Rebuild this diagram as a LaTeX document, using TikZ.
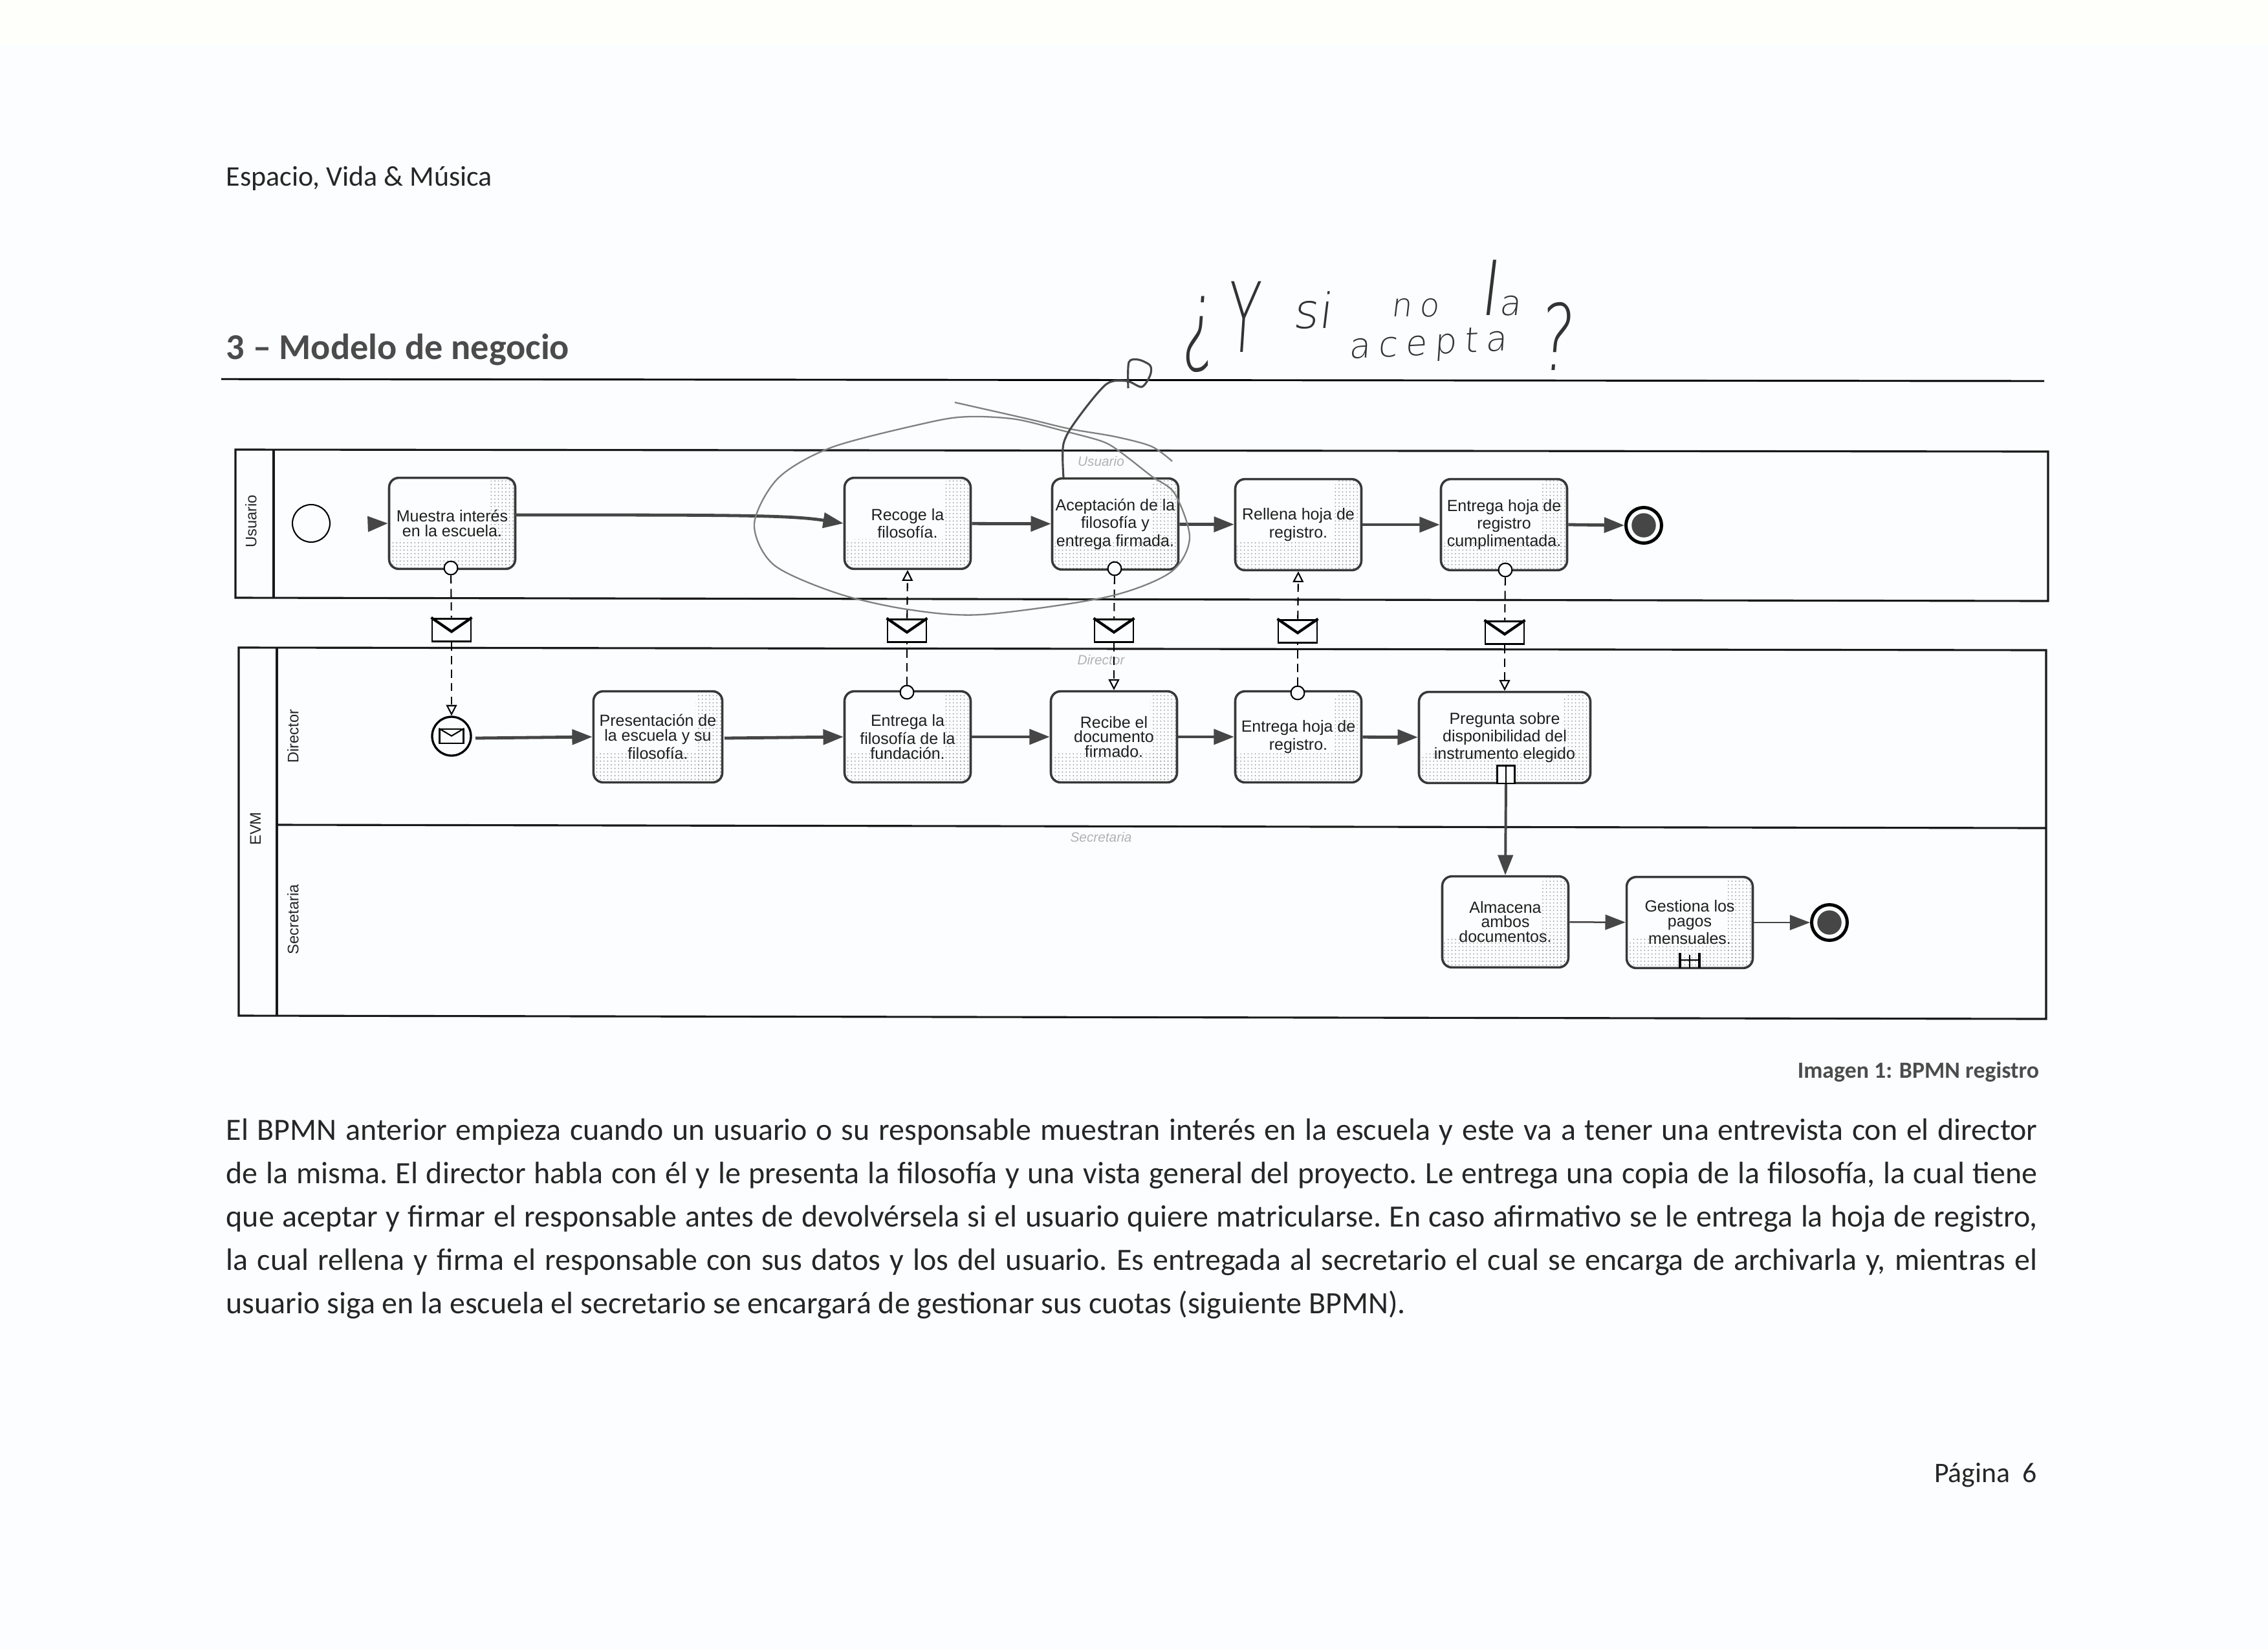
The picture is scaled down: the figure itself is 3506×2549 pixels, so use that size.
\documentclass[tikz,border=0pt]{standalone}
\usepackage{xcolor}
\usepackage{tikz}
\usepackage{graphicx}
\usepackage{fontspec}
\setmainfont{Carlito}
\setsansfont{Liberation Sans}
\newfontfamily\inkfont[FakeSlant=0.12,LetterSpace=22]{DejaVu Sans ExtraLight}
\newfontfamily\inkglyph[FakeSlant=0.12]{DejaVu Sans ExtraLight}
\usetikzlibrary{arrows.meta}
\usetikzlibrary{patterns}
\definecolor{paper}{RGB}{251,253,254}
\definecolor{paperstrip}{RGB}{254,254,250}
\definecolor{inkgray}{RGB}{70,70,70}
\definecolor{titlegray}{RGB}{75,75,75}
\pgfdeclarepatternformonly{taskdots}{\pgfqpoint{-0.5pt}{-0.5pt}}{\pgfqpoint{0.5pt}{0.5pt}}{\pgfqpoint{1.35pt}{1.35pt}}{\pgfpathcircle{\pgfqpoint{0pt}{0pt}}{0.22pt}\pgfusepath{fill}}
\tikzset{task/.style={draw=black!78,line width=0.85pt,rounded corners=3.6pt,fill=paper,align=center,
           inner sep=0pt,minimum width=46.8pt,minimum height=33.8pt,text=black!88,
           font=\sffamily\fontsize{6}{5.4}\selectfont,
           path picture={\fill[pattern=taskdots,pattern color=black!45]
             (path picture bounding box.south west) rectangle ([yshift=11pt]path picture bounding box.south east);
             \fill[pattern=taskdots,pattern color=black!45]
             ([xshift=-10pt]path picture bounding box.south east) rectangle (path picture bounding box.north east);}},
         seqflow/.style={draw=inkgray,line width=1.15pt,-{Triangle[length=7.5pt,width=5.6pt]}},
         thinflow/.style={seqflow,line width=0.6pt},
         msgflow/.style={draw=black,line width=0.5pt,densely dashed},
         msgtip/.style={-{Triangle[open,fill=paper,length=4pt,width=4pt]}},
         msgdot/.style={circle,draw=black,line width=0.5pt,fill=paper,inner sep=0pt,minimum size=5pt},
         envelope/.style={rectangle,draw=black,line width=0.7pt,fill=paper,inner sep=0pt,minimum width=14.4pt,minimum height=8.6pt},
         lanelabel/.style={rotate=90,text=black!85,font=\sffamily\fontsize{5.7}{5.7}\selectfont},
         poolline/.style={line width=0.75pt,draw=black!90},
         ghost/.style={text=black!30,font=\sffamily\itshape\fontsize{5}{5}\selectfont},
         startevt/.style={circle,draw=black,line width=0.5pt,fill=paper,inner sep=0pt,minimum size=13.9pt},
         endevt/.style={circle,draw=black,line width=1.2pt,fill=paper,inner sep=0pt,minimum size=13.2pt},
         handline/.style={draw=black!50,line width=0.55pt},
         inkline/.style={draw=black!72,line width=0.75pt},
         inktext/.style={text=black!80,inner sep=0pt,font=\inkfont\fontsize{13}{13}\selectfont}}
\newcommand{\envflap}[1]{\draw[line width=1pt] (#1.north west)--([yshift=-5.2pt]#1.north)--(#1.north east);}
\begin{document}
\begin{tikzpicture}[x=0.24pt,y=-0.24pt]
\fill[paper] (0,0) rectangle (3506,2549);
\fill[paperstrip] (0,0) rectangle (3506,68);
\useasboundingbox (0,0) rectangle (3506,2549);
% page head
\node[anchor=west,inner sep=0pt,font=\fontsize{10.55}{13}\selectfont,text=black!85] (head) at (349,276) {Espacio, Vida \& Música};
\node[anchor=west,inner sep=0pt,font=\bfseries\fontsize{13.5}{16}\selectfont,text=titlegray] (title) at (349,541) {3 – Modelo de negocio};
\coordinate (ruleL) at (342,586);
\coordinate (ruleR) at (3160,589);
\draw[line width=0.7pt] (ruleL)--(ruleR);
% pools
\coordinate (usuNW) at (364,695);
\coordinate (usuNE) at (3166,698);
\coordinate (usuSE) at (3166,929);
\coordinate (usuSW) at (364,924);
\draw[poolline] (usuNW)--(usuNE)--(usuSE)--(usuSW)--cycle;
\draw[poolline] (423,695)--(423,924);
\coordinate (evmNW) at (369,1001);
\coordinate (evmNE) at (3163,1005);
\coordinate (evmSE) at (3163,1575);
\coordinate (evmSW) at (369,1570);
\draw[poolline] (evmNW)--(evmNE)--(evmSE)--(evmSW)--cycle;
\draw[poolline] (428,1001)--(428,1570);
\draw[poolline] (428,1275)--(3163,1280);
\node[lanelabel] (lblusu) at (388,806) {Usuario};
\node[lanelabel] (lblevm) at (395,1281) {EVM};
\node[lanelabel] (lbldir) at (453,1138) {Director};
\node[lanelabel] (lblsec) at (453,1421) {Secretaria};
\node[ghost] (ghostusu) at (1702,713) {Usuario};
\node[ghost] (ghostdir) at (1702,1020) {Director};
\node[ghost] (ghostsec) at (1702,1294) {Secretaria};
% tasks usuario
\node[task] (muestra) at (699,809) {Muestra interés\\en la escuela.};
\node[task] (recoge) at (1403,809) {Recoge la\\filosofía.};
\node[task] (acepta) at (1724,810) {Aceptación de la\\filosofía y\\entrega firmada.};
\node[task] (rellena) at (2007,811) {Rellena hoja de\\registro.};
\node[task] (cumple) at (2325,811) {Entrega hoja de\\registro\\cumplimentada.};
% tasks director
\node[task,minimum width=47.8pt] (presenta) at (1017,1139) {Presentación de\\la escuela y su\\filosofía.};
\node[task] (entrega) at (1403,1139) {Entrega la\\filosofía de la\\fundación.};
\node[task] (recibe) at (1722,1139) {Recibe el\\documento\\firmado.};
\node[task] (hoja) at (2007,1139) {Entrega hoja de\\registro.};
\node[task,minimum width=63.6pt] (pregunta) at (2326,1140) {Pregunta sobre\\disponibilidad del\\instrumento elegido};
% tasks secretaria
\node[task] (almacena) at (2327,1425) {Almacena\\ambos\\documentos.};
\node[task] (gestiona) at (2612,1426) {Gestiona los\\pagos\\mensuales.};
% events
\node[startevt] (inicio) at (481,809) {};
\node[startevt,line width=0.8pt,minimum size=14.4pt] (msgini) at (698,1138) {};
\node[rectangle,draw=black,line width=0.6pt,inner sep=0pt,minimum width=8.8pt,minimum height=5.2pt] (msgicon) at (698,1138) {};
\draw[line width=0.5pt] (msgicon.north west)--([yshift=-2.8pt]msgicon.north)--(msgicon.north east);
\node[endevt] (fin) at (2541,812) {};
\node[circle,fill=inkgray,inner sep=0pt,minimum size=9pt] (findot) at (2541,812) {};
\node[endevt] (fin2) at (2828,1426) {};
\node[circle,fill=inkgray,inner sep=0pt,minimum size=9pt] (fin2dot) at (2828,1426) {};
% markers
\node[rectangle,draw=black,line width=0.6pt,fill=paper,inner sep=0pt,minimum width=6.4pt,minimum height=6.6pt] (marcaloop) at (2328,1197) {};
\draw[line width=0.7pt] (marcaloop.north)--(marcaloop.south);
\coordinate (subA) at (2597,1473);
\coordinate (subB) at (2597,1496);
\coordinate (subC) at (2627,1473);
\coordinate (subD) at (2627,1496);
\draw[line width=0.9pt] (subA)--(subB) (subC)--(subD);
\draw[line width=0.7pt] (2612,1476)--(2612,1496) (2597,1484)--(2627,1484);
% sequence flows
\coordinate (inicioT) at (570,810);
\coordinate (muestraT) at (796,796);
\draw[seqflow] (inicioT)--(muestra.west);
\draw[seqflow] (muestraT) .. controls (1130,796) and (1220,796) .. (recoge.west);
\draw[seqflow] (recoge)--(acepta);
\draw[seqflow] (acepta)--(rellena);
\draw[seqflow] (rellena)--(cumple);
\draw[seqflow] (cumple.east)--(fin.west);
\coordinate (msginiT) at (735,1141);
\draw[seqflow] (msginiT)--(presenta.west);
\coordinate (presentaT) at (1120,1141);
\draw[seqflow] (presentaT)--(entrega.west);
\draw[seqflow] (entrega)--(recibe);
\draw[seqflow] (recibe)--(hoja);
\draw[seqflow] (hoja)--(pregunta);
\draw[seqflow,line width=0.95pt] (marcaloop.south)--(almacena.north);
\draw[thinflow] (almacena)--(gestiona);
\draw[thinflow] (gestiona)--(fin2);
% message flows
\node[msgdot] (dotA) at (697,878) {};
\node[envelope] (envA) at (698,974) {};
\envflap{envA}
\draw[msgflow] (dotA)--(envA);
\draw[msgflow,msgtip] (envA)--(msgini.north);
\node[msgdot] (dotB) at (1402,1070) {};
\node[envelope] (envB) at (1402,975) {};
\envflap{envB}
\draw[msgflow] (dotB)--(envB);
\draw[msgflow,msgtip] (envB)--(recoge.south);
\node[msgdot] (dotC) at (1723,879) {};
\node[envelope] (envC) at (1722,975) {};
\envflap{envC}
\draw[msgflow] (dotC)--(envC);
\draw[msgflow,msgtip] (envC)--(recibe.north);
\node[msgdot] (dotD) at (2006,1071) {};
\node[envelope] (envD) at (2006,976) {};
\envflap{envD}
\draw[msgflow] (dotD)--(envD);
\draw[msgflow,msgtip] (envD)--(rellena.south);
\node[msgdot] (dotE) at (2327,881) {};
\node[envelope] (envE) at (2326,978) {};
\envflap{envE}
\draw[msgflow] (dotE)--(envE);
\draw[msgflow,msgtip] (envE)--(pregunta.north);
% pencil ring and pen note
\draw[handline] plot[smooth] coordinates {(1476,622) (1591,648) (1654,663) (1724,675) (1780,690) (1812,713)};
\draw[handline] plot[smooth cycle] coordinates {(1703,682) (1640,665) (1570,648) (1500,644) (1440,652) (1287,691) (1203,739) (1166,810) (1196,873) (1294,917) (1403,942) (1518,950) (1710,923) (1809,885) (1839,832) (1816,763) (1780,736) (1731,698)};
\draw[inkline] plot[smooth] coordinates {(1644,738) (1644,686) (1665,648) (1710,594) (1742,589) (1765,598) (1778,580) (1778,565) (1760,556) (1745,560) (1744,600)};
\node[inktext,font=\inkglyph\fontsize{38}{38}\selectfont] (inkopen) at (1853,517) {\scalebox{0.6}[1]{¿}};
\node[inktext,font=\inkglyph\fontsize{36}{36}\selectfont] (inky) at (1920,490) {\scalebox{0.55}[1]{Y}};
\node[inktext,font=\inkglyph\fontsize{18}{18}\selectfont] (inksi) at (2028,480) {si};
\node[inktext,font=\inkfont\fontsize{12}{12}\selectfont] (inkno) at (2187,476) {no};
\node[inktext,font=\inkglyph\fontsize{13}{13}\selectfont] (inkla) at (2318,445) {{\fontsize{27}{27}\selectfont l}a};
\node[inktext,rotate=3] (inkacepta) at (2207,535) {acepta};
\node[inktext,font=\inkglyph\fontsize{34}{34}\selectfont] (inkclose) at (2404,520) {\scalebox{0.7}[1]{?}};
% text below
\node[anchor=east,inner sep=0pt,font=\bfseries\fontsize{8.6}{11}\selectfont,text=black!70] (caption) at (3153,1657) {Imagen 1: BPMN registro};
\node[anchor=north west,inner sep=0pt,text width=672pt,align=justify,font=\frenchspacing\fontsize{11.5}{16.1}\selectfont,text=black!85] (body) at (349,1728)
{El BPMN anterior empieza cuando un usuario o su responsable muestran interés en la escuela y este va a tener una entrevista con el director\linebreak
de la misma. El director habla con él y le presenta la filosofía y una vista general del proyecto. Le entrega una copia de la filosofía, la cual tiene\linebreak
que aceptar y firmar el responsable antes de devolvérsela si el usuario quiere matricularse. En caso afirmativo se le entrega la hoja de registro,\linebreak
la cual rellena y firma el responsable con sus datos y los del usuario. Es entregada al secretario el cual se encarga de archivarla y, mientras el\linebreak
usuario siga en la escuela el secretario se encargará de gestionar sus cuotas (siguiente BPMN).};
\node[anchor=east,inner sep=0pt,font=\fontsize{10.5}{13}\selectfont,text=black!85] (pagina) at (3150,2280) {Página\ \ 6};
\end{tikzpicture}
\end{document}
